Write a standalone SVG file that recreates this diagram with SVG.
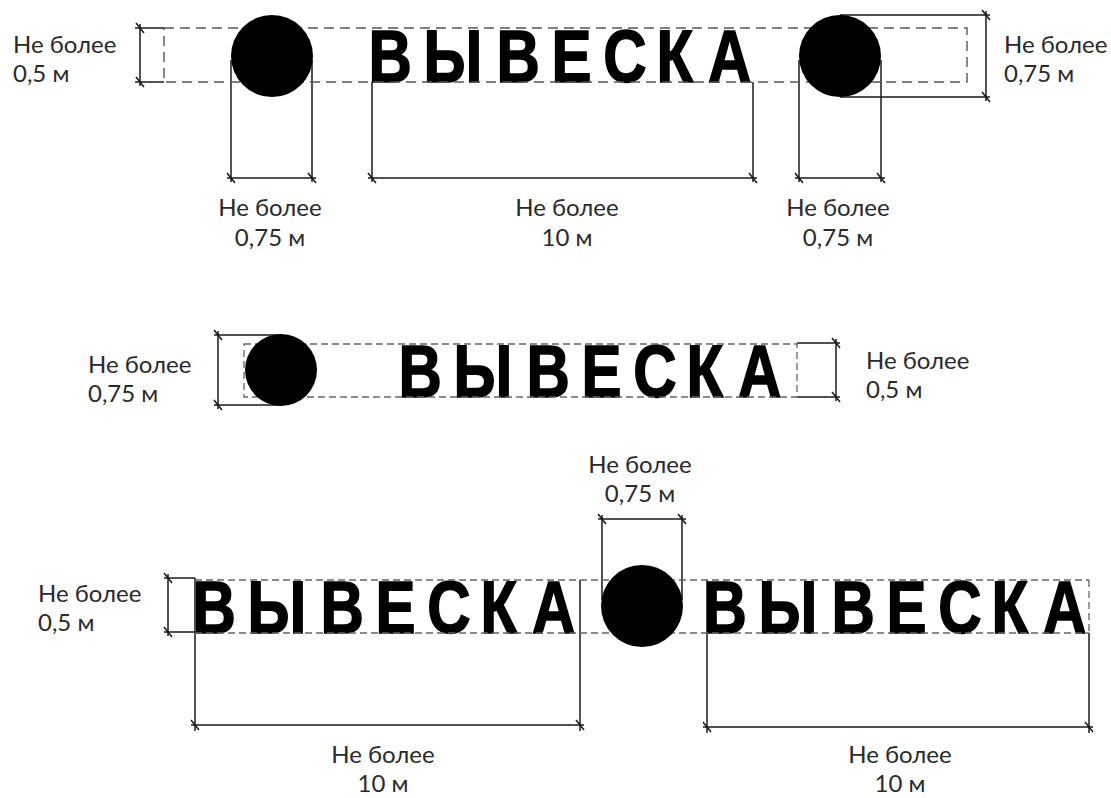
<svg xmlns="http://www.w3.org/2000/svg" width="1111" height="798" viewBox="0 0 1111 798">
<style>
.sign{font-family:"Liberation Sans",Arial,sans-serif;font-weight:bold;font-size:75px;fill:#000;stroke:#000;stroke-width:1.6}
.lbl{font-family:Lato,"Open Sans",sans-serif;font-size:24px;fill:#2a2a2a}
.mid{text-anchor:middle}
.dash{fill:none;stroke:#555;stroke-width:1.4;stroke-dasharray:10 6}
.dash2{fill:none;stroke:#666;stroke-width:1.3;stroke-dasharray:7 4}
.ln{fill:none;stroke:#1a1a1a;stroke-width:1.5}
.tk{fill:none;stroke:#1a1a1a;stroke-width:1.5}
.dot{fill:#000}
</style>
<rect width="1111" height="798" fill="#fff"/>

<g id="connectors">
  <!-- top row -->
  <path class="ln" d="M135 28H164M135 82H164M140 24V86"/>
  <path class="tk" d="M136 23L144 33M136 77L144 87"/>
  <path class="ln" d="M231 60V182M312 60V182M227 178H316"/>
  <path class="tk" d="M227 173L235 183M308 173L316 183"/>
  <path class="ln" d="M372 82V182M753 82V182M368 178H757"/>
  <path class="tk" d="M368 173L376 183M749 173L757 183"/>
  <path class="ln" d="M799 60V182M881 60V182M795 178H885"/>
  <path class="tk" d="M795 173L803 183M877 173L885 183"/>
  <path class="ln" d="M840 15H990M840 97H990M986 11V101"/>
  <path class="tk" d="M982 10L990 20M982 92L990 102"/>
  <!-- middle row -->
  <path class="ln" d="M214 335H281M214 405H281M218 331V409"/>
  <path class="tk" d="M214 330L222 340M214 400L222 410"/>
  <path class="ln" d="M797 343H840M797 397H840M836 339V401"/>
  <path class="tk" d="M832 338L840 348M832 392L840 402"/>
  <!-- bottom row -->
  <path class="ln" d="M164 578H195M164 632H195M168 574V636"/>
  <path class="tk" d="M164 573L172 583M164 627L172 637"/>
  <path class="ln" d="M195 578V731M580 580V731M191 725H584"/>
  <path class="tk" d="M191 720L199 730M576 720L584 730"/>
  <path class="ln" d="M707 580V733M1089 633V733M703 727H1093"/>
  <path class="tk" d="M703 722L711 732M1085 722L1093 732"/>
  <path class="ln" d="M602 515V600M682 515V600M598 519H686"/>
  <path class="tk" d="M598 514L606 524M678 514L686 524"/>
</g>

<g id="sign-top">
  <text class="sign" transform="translate(373,82) scale(0.8,1)" x="-5.5 63.25 154.5 223.25 287.9 354.5 418.75" y="0">ВЫВЕСКА</text>
</g>
<g id="sign-middle">
  <text class="sign" transform="translate(403,397) scale(0.8,1)" x="-5.5 63.25 154.5 223.25 287.9 354.5 418.75" y="0">ВЫВЕСКА</text>
</g>
<g id="sign-bottom-left">
  <text class="sign" transform="translate(197,633) scale(0.8,1)" x="-5.5 63.25 154.5 223.25 287.9 354.5 418.75" y="0">ВЫВЕСКА</text>
</g>
<g id="sign-bottom-right">
  <text class="sign" transform="translate(708,633) scale(0.8,1)" x="-5.5 63.25 154.5 223.25 287.9 354.5 418.75" y="0">ВЫВЕСКА</text>
</g>

<g id="frames">
  <rect class="dash" x="164" y="28" width="803" height="54"/>
  <rect class="dash2" x="244" y="344" width="553" height="53"/>
  <path class="dash2" d="M195 580H1089M195 633H1089M1089 580V633"/>
</g>

<g id="circle-top-left"><circle class="dot" cx="272" cy="56" r="41"/></g>
<g id="circle-top-right"><circle class="dot" cx="840" cy="56" r="41"/></g>
<g id="circle-middle"><circle class="dot" cx="281" cy="370" r="36"/></g>
<g id="circle-bottom"><circle class="dot" cx="642" cy="606" r="41"/></g>

<g id="label-top-left"><text class="lbl" x="13" y="53">Не более</text><text class="lbl" x="13" y="82">0,5 м</text></g>
<g id="label-top-right"><text class="lbl" x="1004" y="53">Не более</text><text class="lbl" x="1004" y="82">0,75 м</text></g>
<g id="label-top-c1"><text class="lbl mid" x="270" y="216">Не более</text><text class="lbl mid" x="270" y="246">0,75 м</text></g>
<g id="label-top-sign"><text class="lbl mid" x="567" y="216">Не более</text><text class="lbl mid" x="567" y="246">10 м</text></g>
<g id="label-top-c2"><text class="lbl mid" x="838" y="216">Не более</text><text class="lbl mid" x="838" y="246">0,75 м</text></g>
<g id="label-mid-left"><text class="lbl" x="88" y="373">Не более</text><text class="lbl" x="88" y="402">0,75 м</text></g>
<g id="label-mid-right"><text class="lbl" x="866" y="369">Не более</text><text class="lbl" x="866" y="398">0,5 м</text></g>
<g id="label-bot-left"><text class="lbl" x="38" y="602">Не более</text><text class="lbl" x="38" y="631">0,5 м</text></g>
<g id="label-bot-circle"><text class="lbl mid" x="640" y="473">Не более</text><text class="lbl mid" x="640" y="502">0,75 м</text></g>
<g id="label-bot-sign1"><text class="lbl mid" x="383" y="763">Не более</text><text class="lbl mid" x="383" y="792">10 м</text></g>
<g id="label-bot-sign2"><text class="lbl mid" x="900" y="763">Не более</text><text class="lbl mid" x="900" y="792">10 м</text></g>
</svg>
